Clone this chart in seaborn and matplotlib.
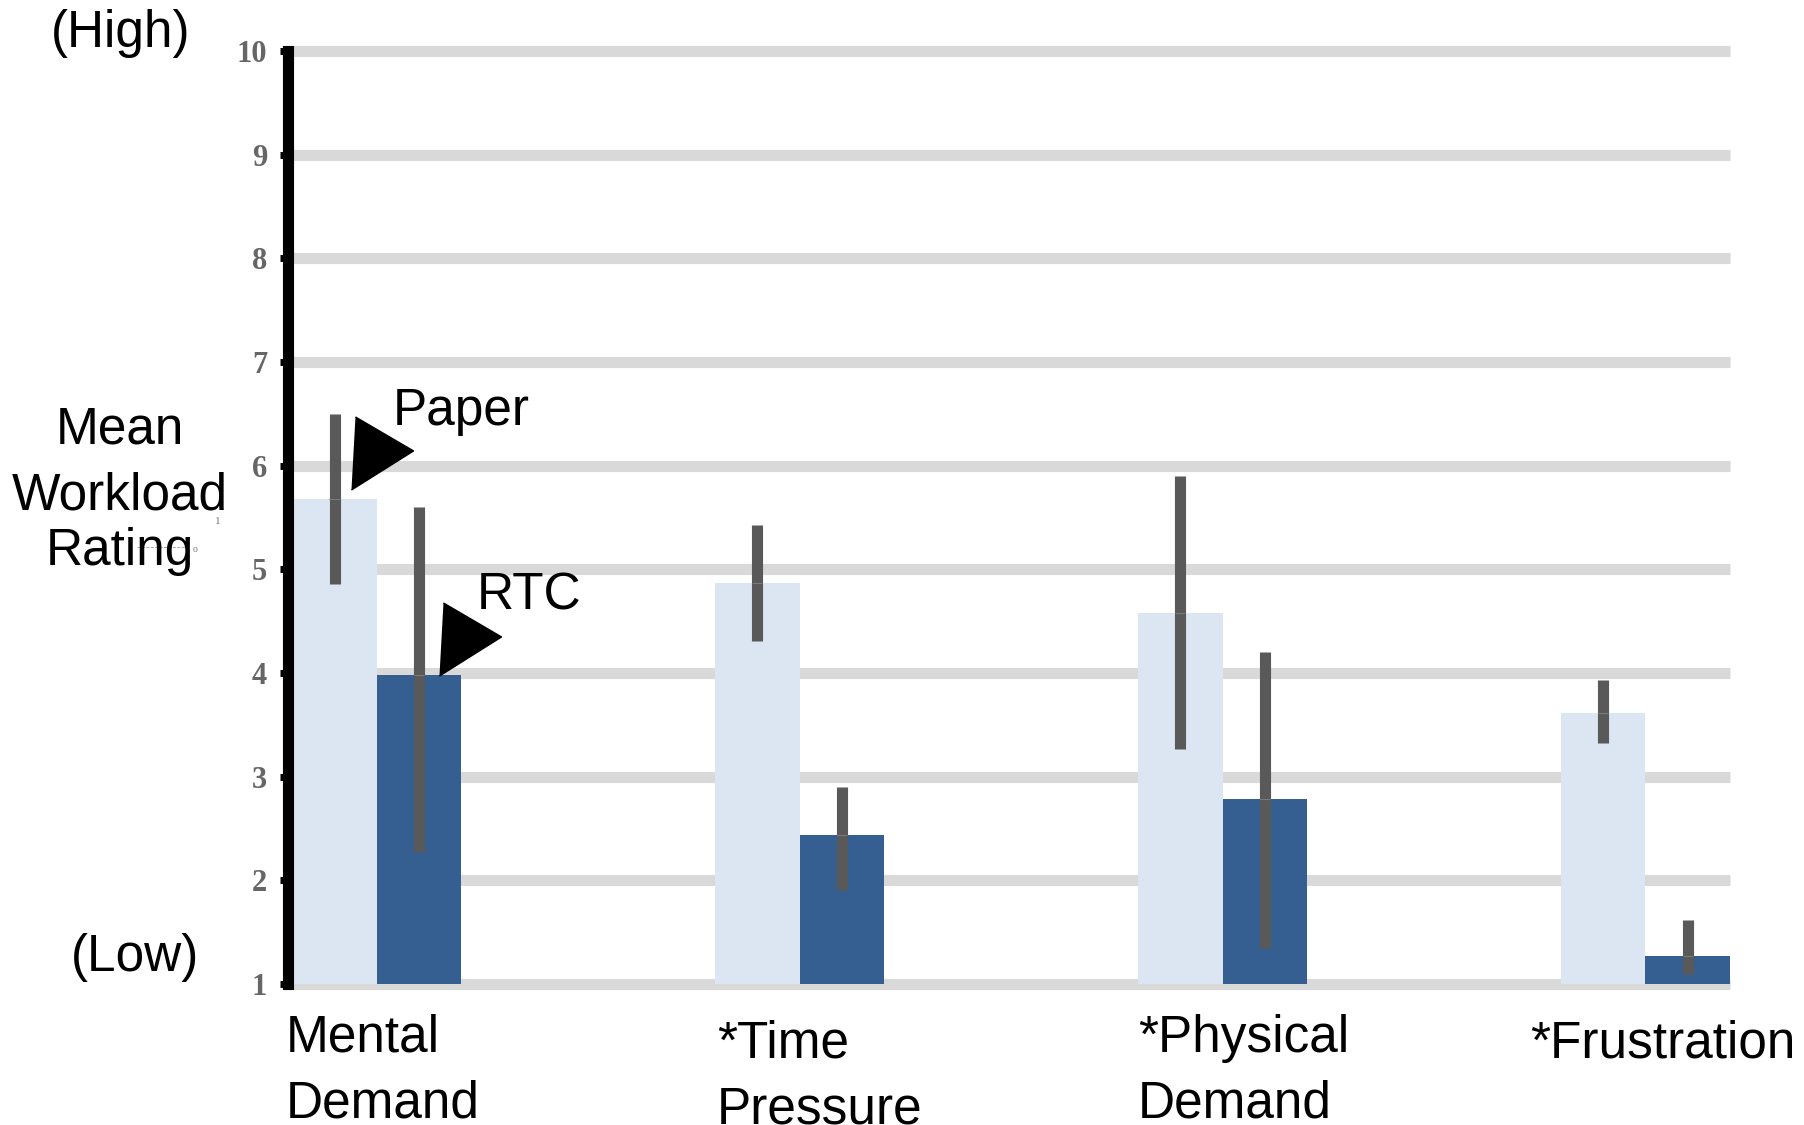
import matplotlib.pyplot as plt
from matplotlib.lines import Line2D
import numpy as np
import pandas as pd
import seaborn as sns

sns.set_style("white")

categories = ["Mental Demand", "*Time Pressure", "*Physical Demand", "*Frustration"]
label_lines = [["Mental", "Demand"], ["*Time", "Pressure"], ["*Physical", "Demand"], ["*Frustration"]]
conditions = ["Paper", "RTC"]

paper_mean = [5.68, 4.87, 4.58, 3.61]
paper_low = [4.86, 4.31, 3.27, 3.32]
paper_high = [6.50, 5.43, 5.90, 3.93]
rtc_mean = [3.98, 2.44, 2.78, 1.27]
rtc_low = [2.27, 1.91, 1.35, 1.10]
rtc_high = [5.60, 2.90, 4.20, 1.62]
y_ticks = list(range(1, 11))

W, H = 1804, 1125
SANS = "Liberation Sans"


def fx(x):
    return x / W


def fy(y):
    return 1 - y / H


df = pd.DataFrame({
    "category": categories * 2,
    "condition": ["Paper"] * 4 + ["RTC"] * 4,
    "rating": paper_mean + rtc_mean,
})

fig = plt.figure(figsize=(W / 100, H / 100), dpi=100)
ax = fig.add_axes([fx(288), fy(984), 1442 / W, 933 / H])

# thick light grid lines behind the bars
ax.hlines(y_ticks, 0, 1, transform=ax.get_yaxis_transform(), color="#d9d9d9",
          lw=8, zorder=0, clip_on=False)

sns.barplot(
    df,
    x="category",
    y="rating",
    hue="condition",
    palette=["#dce6f2", "#365f91"],
    width=0.4,
    saturation=1,
    errorbar=None,
    linewidth=0,
    legend=False,
    ax=ax,
    zorder=1,
)

# error bars from the read-off ranges
for cont, lows, highs, means in zip(ax.containers, [paper_low, rtc_low],
                                    [paper_high, rtc_high], [paper_mean, rtc_mean]):
    for bar, lo, hi, m in zip(cont, lows, highs, means):
        xc = bar.get_x() + bar.get_width() / 2
        ax.vlines(xc, lo, hi, color="#595959", lw=8, zorder=3)
        ax.hlines(m, xc - 0.012, xc + 0.012, color="#7a7a7a", lw=0.8, zorder=4)

ax.set_xlim(-0.21, 3.2)
ax.set_ylim(1, 10)
ax.set_yticks(y_ticks)
ax.set_xticks([])
ax.set_xlabel("")
ax.set_ylabel("")
for s in ["top", "right", "bottom"]:
    ax.spines[s].set_visible(False)
ax.spines["left"].set_linewidth(8)
ax.spines["left"].set_color("black")
ax.spines["left"].set_zorder(5)
ax.tick_params(axis="y", length=6, width=5, color="black", pad=9,
               labelsize=22, labelcolor="#666666", left=True)
for lab in ax.get_yticklabels():
    lab.set_fontfamily("Liberation Serif")
    lab.set_fontweight("bold")

# pointer triangles for the two conditions
tri = [(-0.74, 1.0), (0.85, 0.07), (-0.85, -1.0)]
ax.plot([0.012], [6.12], marker=tri, ms=52.6, color="black", ls="none",
        clip_on=False, zorder=6)
ax.plot([0.221], [4.33], marker=tri, ms=52.6, color="black", ls="none",
        clip_on=False, zorder=6)
fig.text(fx(393), fy(425), "Paper", fontsize=37, family=SANS, va="baseline", color="black")
fig.text(fx(477), fy(610), "RTC", fontsize=37, family=SANS, va="baseline", color="black")

# axis side texts
fig.text(fx(121), fy(33), "(High)", fontsize=37, family=SANS, ha="center", va="center",
         color="black")
fig.text(fx(135), fy(957), "(Low)", fontsize=37, family=SANS, ha="center", va="center",
         color="black")
for word, base in zip(["Mean", "Workload", "Rating"], [443, 510, 565]):
    fig.text(fx(120), fy(base), word, fontsize=37, family=SANS, ha="center", va="baseline",
             color="black")
fig.text(fx(215), fy(524), "1", fontsize=8, family="Liberation Serif", color="#777777")
fig.text(fx(193), fy(552), "o", fontsize=7, family="Liberation Serif", color="#777777")
fig.add_artist(Line2D([fx(137), fx(190)], [fy(547), fy(547)], lw=0.6, ls="--",
                      color="#999999", transform=fig.transFigure))

# category labels under the groups
label_left = [286, 717, 1138, 1530]
label_base = [1051, 1057, 1052, 1057]
for lines, x0, b0 in zip(label_lines, label_left, label_base):
    for k, line in enumerate(lines):
        fig.text(fx(x0), fy(b0 + 66 * k), line, fontsize=37, family=SANS,
                 ha="left", va="baseline", color="black")

fig.savefig("out.png", dpi=100, facecolor="white")
